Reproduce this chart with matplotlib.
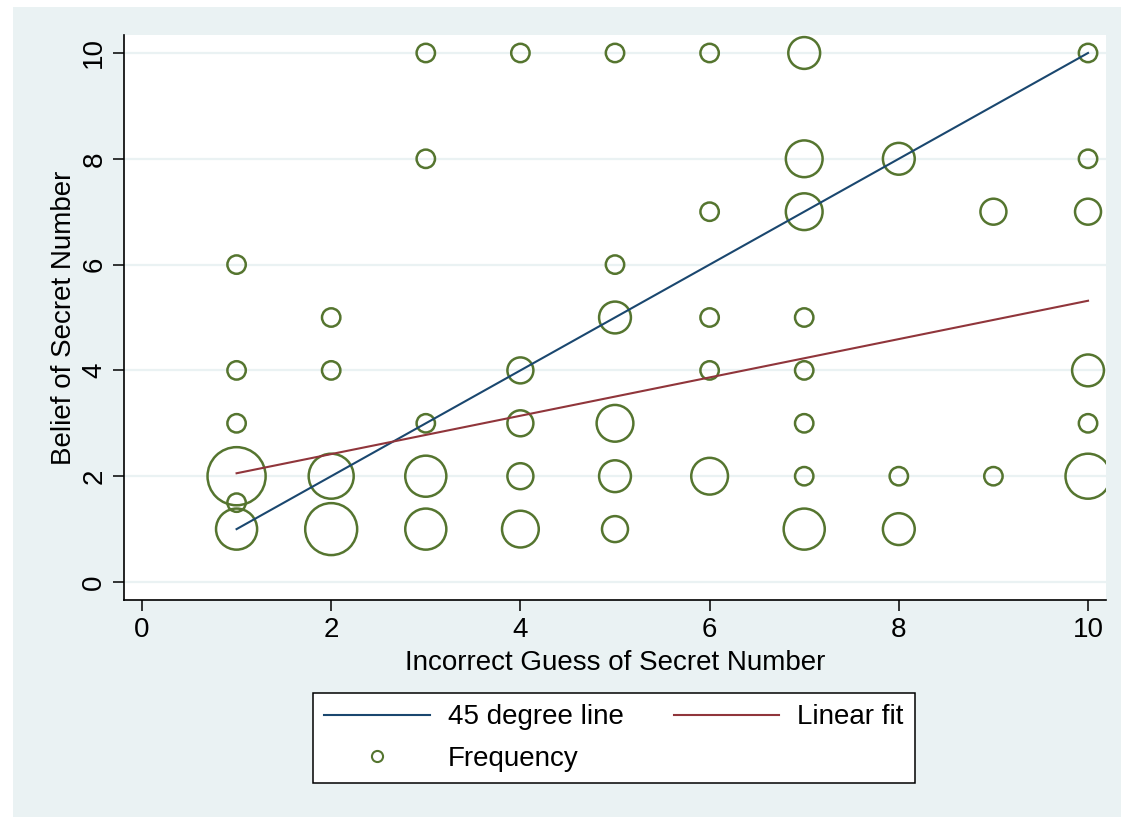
import numpy as np
import matplotlib
matplotlib.use('Agg')
import matplotlib.pyplot as plt
from matplotlib.lines import Line2D
from matplotlib.patches import Rectangle

# guess (x), belief (y) and how many times each pair occurred
guess = [1, 1, 1, 1, 1, 1,
         2, 2, 2, 2,
         3, 3, 3, 3, 3,
         4, 4, 4, 4, 4,
         5, 5, 5, 5, 5, 5,
         6, 6, 6, 6, 6,
         7, 7, 7, 7, 7, 7, 7, 7,
         8, 8, 8,
         9, 9,
         10, 10, 10, 10, 10, 10]
belief = [6, 4, 3, 2, 1.5, 1,
          5, 4, 2, 1,
          10, 8, 3, 2, 1,
          10, 4, 3, 2, 1,
          10, 6, 5, 3, 2, 1,
          10, 7, 5, 4, 2,
          10, 8, 7, 5, 4, 3, 2, 1,
          8, 2, 1,
          7, 2,
          10, 8, 7, 4, 3, 2]
freq = [1, 1, 1, 10, 1, 5,
        1, 1, 6, 8,
        1, 1, 1, 5, 5,
        1, 2, 2, 2, 4,
        1, 1, 3, 4, 3, 2,
        1, 1, 1, 1, 4,
        3, 4, 4, 1, 1, 1, 1, 5,
        3, 1, 3,
        2, 1,
        1, 1, 2, 3, 1, 6]

x_ticks = [0, 2, 4, 6, 8, 10]
y_ticks = [0, 2, 4, 6, 8, 10]

NAVY = '#1a476f'
MAROON = '#90353b'
GREEN = '#55752f'
BG = '#eaf2f3'

plt.rcParams['font.family'] = ['Liberation Sans', 'DejaVu Sans']
FS = 20

x = np.array(guess, dtype=float)
y = np.array(belief, dtype=float)
w = np.array(freq, dtype=float)

# frequency weighted linear fit
slope, intercept = np.polyfit(x, y, 1, w=np.sqrt(w))
fit_x = np.array([x.min(), x.max()])
fit_y = intercept + slope * fit_x

fig = plt.figure(figsize=(11.21, 8.17), dpi=100, facecolor='white')
fig.patches.append(Rectangle((13 / 1121, 0), 1 - 13 / 1121, 1 - 7 / 817,
                             transform=fig.transFigure, facecolor=BG,
                             edgecolor='none', zorder=-10))

ax = fig.add_axes([124 / 1121, 1 - 600 / 817, (1106 - 124) / 1121, (600 - 35) / 817])
ax.set_facecolor('white')

for yt in y_ticks:
    ax.axhline(yt, color=BG, lw=1.6, zorder=0)

ax.plot(fit_x, fit_x, color=NAVY, lw=1.5, zorder=3)
ax.plot(fit_x, fit_y, color=MAROON, lw=1.5, zorder=3)
ax.scatter(x, y, s=175 * w, facecolors='none', edgecolors=GREEN,
           linewidths=1.8, zorder=2)

ax.set_xlim(-0.19, 10.19)
ax.set_ylim(-0.34, 10.34)
ax.set_xticks(x_ticks)
ax.set_yticks(y_ticks)
for side in ['top', 'right']:
    ax.spines[side].set_visible(False)
for side in ['left', 'bottom']:
    ax.spines[side].set_linewidth(1.2)
ax.tick_params(direction='out', length=8, width=1.1, labelsize=FS, pad=4)
plt.setp(ax.get_yticklabels(), rotation=90, va='center')

ax.set_xlabel('Incorrect Guess of Secret Number', fontsize=FS, labelpad=5)
ax.set_ylabel('Belief of Secret Number', fontsize=FS, labelpad=3)

handles = [Line2D([], [], color=NAVY, lw=1.5),
           Line2D([], [], color=GREEN, marker='o', linestyle='none',
                  markersize=8, markerfacecolor='none', markeredgewidth=1.5),
           Line2D([], [], color=MAROON, lw=1.5)]
labels = ['45 degree line', 'Frequency', 'Linear fit']
leg = fig.legend(handles, labels, ncol=2, loc='center',
                 bbox_to_anchor=(614 / 1121, 1 - 738 / 817),
                 fontsize=FS, frameon=True, fancybox=False, framealpha=1,
                 facecolor='white', edgecolor='black',
                 handlelength=3.8, handletextpad=0.65, columnspacing=1.8,
                 labelspacing=0.55, borderpad=0.42)
leg.get_frame().set_linewidth(1.1)

fig.savefig('out.png', dpi=100, facecolor='white')
